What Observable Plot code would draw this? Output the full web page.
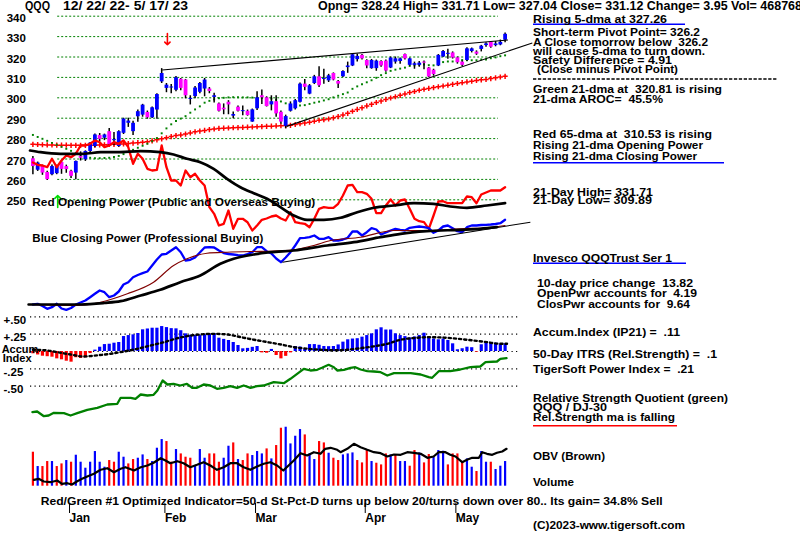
<!DOCTYPE html>
<html><head><meta charset="utf-8">
<script src="https://cdn.jsdelivr.net/npm/d3@7"></script>
<script src="https://cdn.jsdelivr.net/npm/@observablehq/plot@0.6"></script>
<style>
body{margin:0;background:#fff;}
#chart{position:relative;width:800px;height:534px;overflow:hidden;background:#fff;}
#chart svg{position:absolute;left:0;top:0;overflow:visible;}
</style></head><body><div id="chart"></div>
<script>
// ---------- DATA (trading-day index 0 = 12/22/22 ... 99 = 5/17/23) ----------
const monthTicks = [6, 26, 45, 68, 87];
const monthLabels = ["Jan", "Feb", "Mar", "Apr", "May"];
const priceTicks = [250, 260, 270, 280, 290, 300, 310, 320, 330, 340];
const accumTicks = [0.5, 0.25, -0.25, -0.5];
const accumTickLabels = ["+.50", "+.25", "-.25", "-.50"];

const open = [270.1,264.5,266.3,263.4,262.3,262.8,268.3,266.3,264.0,263.1,
 271.2,269.6,273.7,276.1,281.5,280.2,283.4,279.0,276.1,282.6,
 287.5,283.4,290.7,291.5,292.8,290.2,294.0,307.8,304.6,304.8,
 303.7,309.1,308.7,299.2,300.6,302.7,304.3,304.3,300.2,297.0,
 294.9,297.8,291.0,295.4,293.2,293.4,288.1,294.6,301.0,300.0,
 296.5,298.1,292.9,286.0,293.4,294.6,297.8,306.7,301.8,307.0,
 310.3,309.0,308.3,311.9,308.0,310.3,314.8,315.6,318.7,320.8,
 318.3,314.3,314.3,317.8,318.0,314.6,317.5,317.8,321.2,315.9,
 315.9,315.9,317.0,314.6,313.5,315.6,320.0,321.3,322.0,319.6,
 317.5,318.3,322.7,322.4,323.7,325.6,327.2,325.6,325.9,328.24];
const high = [271.2,268.5,267.0,264.0,267.0,267.0,269.0,267.0,264.5,269.0,
 273.5,274.0,278.0,282.3,282.5,282.2,285.0,283.0,283.8,290.0,
 290.0,288.5,294.0,296.8,293.5,295.5,302.0,314.3,307.0,306.5,
 310.5,309.5,309.0,301.0,305.5,307.5,309.5,305.0,302.2,297.5,
 297.0,298.6,293.0,296.0,296.0,294.0,294.5,303.0,303.8,300.5,
 301.0,301.0,293.5,291.5,298.0,299.2,307.2,309.0,306.5,311.0,
 315.2,314.0,311.5,312.2,308.5,313.3,317.5,321.5,321.3,321.2,
 318.6,318.8,318.5,318.2,318.5,320.0,320.0,319.5,321.5,319.5,
 317.5,317.8,318.0,314.8,314.0,321.2,323.2,323.8,322.5,320.0,
 318.0,324.5,324.4,323.0,325.7,327.0,327.6,327.6,328.3,331.71];
const low = [262.3,263.9,262.0,259.5,261.8,262.3,262.5,263.0,260.5,259.8,
 269.0,268.8,273.0,275.5,278.5,279.0,276.5,276.5,275.8,282.0,
 285.5,281.5,288.0,290.5,289.5,289.8,289.5,307.0,302.5,302.0,
 303.0,303.5,299.5,296.5,299.5,302.0,300.5,302.0,297.5,293.0,
 291.7,291.7,289.7,293.0,291.2,291.0,288.0,293.8,296.7,295.5,
 293.6,290.5,287.0,284.8,293.0,294.0,297.5,303.4,301.5,306.5,
 305.0,306.7,307.5,308.3,304.5,310.0,312.0,315.3,317.5,318.5,
 314.2,314.0,313.0,315.0,312.5,314.3,316.5,316.5,318.5,315.5,
 314.0,315.0,313.8,310.0,310.6,315.3,319.8,318.9,319.0,316.5,
 315.3,317.8,322.0,320.8,322.5,324.8,324.3,325.0,325.5,327.04];
const close = [266.3,268.0,263.1,259.9,266.3,266.5,264.9,264.8,261.5,268.8,
 270.4,273.7,277.8,281.8,279.6,281.8,277.0,279.4,283.4,289.6,
 288.6,287.5,293.2,296.4,290.2,295.1,301.6,311.9,306.2,305.2,
 309.8,304.6,301.0,299.6,304.8,307.0,308.7,303.1,301.0,293.4,
 294.1,296.5,291.8,293.4,293.7,291.3,294.1,300.0,300.0,295.7,
 298.1,292.1,288.1,290.8,297.0,298.6,306.7,305.1,305.9,310.3,
 305.9,309.3,310.8,308.7,306.7,312.9,315.6,321.1,320.3,319.1,
 315.6,318.3,318.0,315.6,313.1,319.5,319.1,319.1,319.1,319.1,
 316.7,317.0,316.6,310.2,311.4,320.8,322.7,321.7,319.5,317.2,
 315.9,324.0,324.0,321.4,325.3,326.4,324.8,326.4,327.17,331.12];

const ma21 = [281.8,280.8,279.9,278.9,277.9,277.0,276.0,275.0,274.0,273.0,
 272.0,271.2,270.6,270.4,270.4,270.5,270.6,271.0,271.5,272.4,
 273.4,274.5,275.5,276.5,277.5,278.7,280.2,282.6,285.0,287.0,
 288.6,289.8,291.0,292.7,294.3,295.8,297.6,298.5,299.2,299.8,
 300.0,300.2,300.3,300.3,300.2,300.2,300.1,300.0,300.0,299.9,
 299.6,299.0,298.2,297.3,296.5,296.2,296.2,296.4,297.0,297.6,
 298.1,298.7,299.3,300.2,301.0,301.8,302.6,304.4,305.6,306.6,
 307.6,308.6,309.8,311.1,312.1,313.2,313.8,314.3,314.8,315.6,
 315.9,316.2,316.3,316.0,315.9,316.8,317.5,317.8,317.8,318.2,
 318.5,318.4,318.4,318.4,318.8,318.8,319.4,319.8,320.4,320.81];
const ma65 = [277.2,277.1,277.0,276.9,276.9,276.8,276.8,276.8,276.7,276.7,
 276.7,276.7,276.8,276.8,276.9,277.0,277.1,277.2,277.3,277.4,
 277.6,277.8,278.0,278.2,278.4,278.9,279.4,279.9,280.4,281.0,
 281.5,281.8,282.2,282.8,283.3,283.7,284.0,284.4,284.7,285.0,
 285.1,285.2,285.3,285.4,285.5,285.6,285.7,285.8,285.9,286.0,
 286.1,286.2,286.3,286.4,286.5,286.9,287.3,287.6,288.0,288.5,
 289.0,289.3,289.6,290.2,290.8,291.6,292.4,293.4,294.3,295.1,
 296.0,296.8,297.7,298.4,299.2,299.9,300.5,301.2,301.9,302.6,
 303.1,303.7,304.2,304.6,305.0,305.4,305.8,306.2,306.6,307.0,
 307.4,307.8,308.1,308.5,308.8,309.0,309.4,309.8,310.2,310.53];
// price trendlines [i1, p1, i2, p2]
const priceTrends = [[27.1, 313.6, 99.6, 328.3], [53.2, 286.0, 104.7, 326.9]];
const sellArrow = [[28.2, 331.5, 326.0]];

// Opening / Closing Power (relative units)
const openPower = [148,145.7,145,143.3,151.7,143.3,150,155,153.3,156.7,
 165,165,166.7,170,168.3,163.3,165,168.3,166.7,170,
 163.3,146.7,156.7,151.7,141.7,140,140.7,165,143.3,130,
 130,125,140,133.3,136.7,130,125,103.3,96.7,85,
 86.7,100,81.7,91.7,91.7,88.3,80,85,90.7,92,
 94,95,92,90,98.3,88.3,87.3,86.7,83.3,91.7,
 101.7,103.3,102.7,102.7,106.7,115,125,125.7,118.3,118.3,
 116.7,111.7,97.3,97.3,105,111,105,110,111,101.7,
 91.7,89.3,88.3,81.7,95,109,109.3,107.3,107.3,107.3,
 107.3,114,113.3,107.3,116,118,120,120,120,123.3];
const openPowerMA = [[-0.6,160],[1.6,158.3],[5.8,156.7],[10.6,156.7],[14.2,158.3],[17.7,158.3],[22.6,159.3],[26.7,158.3],[29.5,156],[32.3,151.7],[35.1,148.3],[37.9,141.7],[40.7,131.7],[43.5,123.3],[46.3,117.3],[49.1,111.7],[51.9,103.3],[54.7,95],[57.5,90.7],[61,90.7],[64.5,92.7],[68,98.3],[71.5,102.7],[75.7,105],[79.9,107.3],[84,106.7],[87.5,104],[91,102.7],[95.2,105],[99,107.3]];
const closePower = [6,6.7,4.5,1.7,3.3,6.7,2,0.7,2.5,6,
 8,10,13.3,16.7,20,18.3,13.3,15,19,26,
 28.3,33.3,35.5,37.3,39,45,51,56,56.7,60,
 63.3,58.3,50,50.7,53,58,63,63.3,63,60,
 57.5,56.5,56,55.3,55,56.5,58.3,63.3,63.3,59.3,
 57,52,48.3,53,58.3,65,72.3,72.7,73.3,75,
 71.7,71.7,73.3,70,70,71,72.7,79,79,75,
 78.3,82.3,81,76,78,80,81.7,80.7,80,82.7,
 83.3,84,83.3,82.3,77.7,80,84,85,82.3,79.3,
 78.3,83.3,85,85,85.5,85.7,86,86.5,87.3,90.7];
const closePowerMA21 = [[-0.9,6],[9.3,5],[14.2,8.3],[19.8,16.7],[25.3,28.3],[29.5,45],[32.3,51.7],[36.5,57.3],[40.7,58.3],[46.3,59],[49.8,59.3],[54.7,60.7],[58.9,65],[62.4,70],[68.7,73.3],[75.7,80],[82.6,80],[89.6,81.7],[96.6,83.3],[99,85]];
const closePowerMA65 = [[-0.9,6],[10,6],[15,7.5],[18.4,9.3],[22.6,15],[26.7,20.7],[30.9,28.3],[35.1,35],[39.3,46.7],[42.1,51.7],[46.3,56],[49.8,58.3],[54.7,60],[61.7,65],[67.3,68.3],[72.9,73.3],[77.1,76.7],[82.6,79.3],[89.6,80.7],[93.8,81.7],[97.3,83.3]];
const powerTrend = [[52.3, 48.3, 104.3, 88.3]];
const buyArrow = [[5.2, 103, 115]];

// Accumulation index (IP21)
const accum = [-0.033,-0.05,-0.068,-0.075,-0.082,-0.106,-0.12,-0.14,-0.154,-0.09,
 -0.1,-0.09,-0.03,0.02,0.062,0.1,0.105,0.12,0.13,0.216,
 0.23,0.24,0.26,0.313,0.325,0.336,0.336,0.36,0.345,0.33,
 0.327,0.30,0.255,0.235,0.23,0.23,0.24,0.245,0.255,0.192,
 0.175,0.159,0.13,0.087,0.039,0.045,0.06,0.072,-0.02,-0.025,
 0.03,-0.058,-0.106,-0.07,-0.02,0.072,0.065,0.03,0.1,0.1,
 0.09,0.072,0.07,0.072,0.095,0.135,0.169,0.18,0.185,0.207,
 0.23,0.255,0.313,0.342,0.31,0.31,0.255,0.23,0.215,0.197,
 0.21,0.23,0.264,0.19,0.18,0.169,0.18,0.16,0.111,0.025,
 0.04,0.062,0.055,-0.01,0.097,0.135,0.125,0.12,0.1,0.11];
const accumMA = [[0,0.025],[2.3,0.02],[5.1,-0.01],[7.9,-0.043],[10.7,-0.072],[13.5,-0.055],[16.3,-0.033],[19.1,0],[21.9,0.039],[24.7,0.087],[27.5,0.135],[30.3,0.192],[33.1,0.23],[38,0.255],[40.8,0.245],[43.6,0.207],[46.4,0.169],[49.2,0.135],[52,0.101],[54.8,0.062],[57.6,0.04],[60.3,0.025],[63.1,0.018],[65.9,0.025],[68.7,0.048],[71.5,0.075],[74.3,0.111],[77.1,0.17],[80,0.195],[83,0.207],[87,0.197],[91,0.169],[95.2,0.135],[98,0.111],[99.4,0.111]];

// Relative strength quotient QQQ / DJ-30 (relative units)
const relStrength = [[-0.1,8.3],[0.9,9],[2.3,4.3],[3.3,5],[4.4,7.7],[6.5,7.3],[7.9,5],[9.3,7.3],[11.4,10.7],[13.5,12.7],[15.6,16],[17.7,16.7],[18.4,22.7],[20.5,22.7],[21.5,21.7],[22.6,26],[24,25],[25.3,25.7],[26.1,30],[27.2,40],[28.2,36],[29.5,36.7],[30.9,35],[32.3,36.7],[33.4,32.7],[34.4,32.7],[35.8,36],[37.2,35],[38.6,31.7],[40,32.7],[41.4,34.3],[42.8,32.7],[44.2,35],[45.6,32.7],[47,34.3],[48.4,35],[50.5,38.3],[52.6,37.3],[54,41.7],[55.4,46.7],[56.8,51.7],[58.2,50],[59.6,50.7],[60.6,52.7],[62,55.7],[63.1,53.3],[63.8,50],[65.2,50.7],[66.6,52.7],[67.6,53.3],[68.7,51],[70.1,49.3],[71.5,49],[72.9,48.3],[74.3,45],[75.7,47.3],[77.1,47.3],[79.2,47.3],[81.3,46],[83,43.3],[83.7,42.7],[85.1,49.3],[87.5,49.3],[89.6,51],[91.7,53.3],[93.8,54],[94.9,58.3],[97.3,59],[98,61.7],[99.3,62.3]];

// Volume (millions) and up/down colouring, OBV (relative units)
const volume = [64.6,37.4,37.4,46.9,46.9,37.4,42.4,48.8,45.6,58.9,
 45.6,34.2,45.6,65.9,45.6,36.1,48.8,45.6,64.6,55.1,
 42.4,50.7,53.2,59.5,50.7,46.9,72.2,88.7,84.9,45.6,
 69.7,61.4,55.1,53.2,38,69.7,53.2,61.4,61.4,45.6,
 53.2,76,82.3,50.7,48.8,61.4,58.3,65.9,61.4,70.9,
 51.9,77.3,110.2,112.1,80.4,95,107.7,97.5,61.4,50.7,
 84.9,82.3,62.7,53.2,48.8,59.5,61.4,63.3,48.8,44.3,
 67.8,46.9,43.7,40.5,61.4,59.5,59.5,46.9,46.9,38,
 67.8,63.3,44.3,60.2,55.1,67.8,66.5,40.5,61.4,61.4,
 45.6,51.9,36.1,27.9,65.9,45.6,45.6,31.7,38,46.9];
const volumeDir = ("RBRRBRRBRB" + "BBBBBBRRBB" + "RRBBRBBBRR" + "BRRRBBBRRR" + "BBRBRRBBBR" +
 "BRRBBBBRBB" + "RRBRRBBBRR" + "RBRRRBRBBR" + "RBRRBBBRRR" + "RBBRBBRBBB").split("");
const obv = [[0.2,10.7],[1.2,11.7],[2.3,9],[3.7,8.3],[5.1,10],[6.1,6.7],[7.2,7.3],[8.2,6],[9.3,9.3],[10.3,11.7],[11.4,14],[12.8,16.7],[14.2,20.7],[15.6,22.3],[17,18.3],[18.4,21.7],[19.4,23.3],[21.2,20],[22.6,23.3],[24,25],[25.3,27.7],[26.8,32.3],[27.8,30],[28.8,27.3],[30.3,29.3],[31.6,27.3],[33,23.3],[34.4,25.7],[35.8,28.3],[37.2,25],[38.6,20.7],[40,23.3],[41.4,27.3],[42.8,27.3],[44.2,23.3],[45.6,20.7],[47,24],[48.4,26.7],[49.8,28.3],[51.2,25],[52.5,20],[53.6,25],[54.7,30],[56.1,37.3],[57.5,35],[58.9,38.3],[60.3,36.7],[61.3,41.7],[62.4,42.7],[63.8,40.7],[64.5,38.3],[65.9,41.7],[67.3,46.7],[68.7,43.3],[70.1,40.7],[71.5,38.3],[72.9,37.3],[74.3,34],[75.7,36],[77.1,35.7],[78.5,38.3],[79.9,37.7],[81.3,36.7],[82.7,32.7],[84,34],[85.1,38.3],[86.5,38.3],[87.5,35.7],[88.6,34],[90,28.3],[91,30.7],[92.1,32.7],[93.5,32.7],[94.2,38.3],[95.2,36.7],[96.3,35.7],[97.3,37.7],[98.4,39],[99.3,41.7]];

// ---------- LAYOUT ----------
const W = 800, H = 534, ML = 32.4, MR = 295.4;
const FONT = "'Liberation Sans', Arial, Helvetica, sans-serif";
const BLUE = "#0000ff", RED = "#ff0000", MAGENTA = "#ff00ff", GREEN = "#008000";
const days = d3.range(100);
const chart = document.getElementById("chart");

function panel(yDomain, top, bottom, marks) {
  const svg = Plot.plot({
    width: W, height: H, marginLeft: ML, marginRight: MR,
    marginTop: top, marginBottom: H - bottom,
    x: {domain: [0, 99], axis: null},
    y: {domain: yDomain, axis: null},
    style: {background: "transparent", overflow: "visible", fontFamily: FONT, fontWeight: "bold"},
    marks
  });
  chart.appendChild(svg);
  return svg;
}

// Price panel
const candles = days.map(i => ({i, o: open[i], h: high[i], l: low[i], c: close[i]}));
panel([250, 340], 15.7, 199.3, [
  Plot.ruleY(priceTicks, {x1: 5.2, x2: 97.6, y: d => d, stroke: GREEN, strokeWidth: 1, strokeDasharray: "2,2"}),
  Plot.dot(days, {x: i => i, y: i => ma65[i], symbol: "plus", r: 1.8, stroke: RED, strokeWidth: 1.5}),
  Plot.dot(days, {x: i => i, y: i => ma21[i], symbol: "square", r: 1.1, fill: GREEN}),
  Plot.ruleX(candles, {x: "i", y1: "l", y2: "h", stroke: "black", strokeWidth: 1.5}),
  Plot.ruleX(candles, {x: "i", y1: "o", y2: d => Math.abs(d.c - d.o) < 0.5 ? d.o + 0.5 : d.c, stroke: d => d.c >= d.o ? BLUE : MAGENTA, strokeWidth: 3.8}),
  Plot.link(priceTrends, {x1: d => d[0], y1: d => d[1], x2: d => d[2], y2: d => d[3], stroke: "black", strokeWidth: 1.1}),
  Plot.arrow(sellArrow, {x1: d => d[0], y1: d => d[1], x2: d => d[0], y2: d => d[2], stroke: RED, strokeWidth: 1.6, headLength: 6, headAngle: 90}),
  Plot.axisY(priceTicks, {anchor: "left", tickSize: 0, tickPadding: 7, fontSize: 11.5, fontWeight: "bold", dy: 2})
]);

// Opening / Closing power panel
panel([0, 170], 140, 310, [
  Plot.line(days, {x: i => i, y: i => openPower[i], stroke: RED, strokeWidth: 2.3}),
  Plot.line(openPowerMA, {x: d => d[0], y: d => d[1], stroke: "black", strokeWidth: 2.7, curve: "monotone-x"}),
  Plot.line(days, {x: i => i, y: i => closePower[i], stroke: BLUE, strokeWidth: 2.3}),
  Plot.line(closePowerMA21, {x: d => d[0], y: d => d[1], stroke: "#800000", strokeWidth: 1.1, curve: "monotone-x"}),
  Plot.line(closePowerMA65, {x: d => d[0], y: d => d[1], stroke: "black", strokeWidth: 2.7, curve: "monotone-x"}),
  Plot.link(powerTrend, {x1: d => d[0], y1: d => d[1], x2: d => d[2], y2: d => d[3], stroke: "black", strokeWidth: 1.1}),
  Plot.arrow(buyArrow, {x1: d => d[0], y1: d => d[1], x2: d => d[0], y2: d => d[2], stroke: "#00dd00", strokeWidth: 1.6, headLength: 5, headAngle: 90})
]);

// Accumulation index panel
panel([-0.5, 0.5], 316.35, 385.65, [
  Plot.ruleY([0.5, 0.25, 0, -0.25, -0.5], {x1: -0.5, x2: 101.9, y: d => d, stroke: "black", strokeWidth: 1.2, strokeDasharray: "1.2,3.3"}),
  Plot.ruleX(days, {x: i => i, y1: 0, y2: i => accum[i], stroke: i => accum[i] >= 0 ? BLUE : RED, strokeWidth: 3.2}),
  Plot.line(accumMA, {x: d => d[0], y: d => d[1], stroke: "black", strokeWidth: 2.4, strokeDasharray: "2.2,3", curve: "monotone-x"}),
  Plot.axisY(accumTicks, {anchor: "left", tickSize: 0, tickPadding: 29.4, textAnchor: "start", tickFormat: d => accumTickLabels[accumTicks.indexOf(d)], fontSize: 11.5, fontWeight: "bold", dy: 3})
]);

// Relative strength panel
panel([0, 70], 350, 420, [
  Plot.line(relStrength, {x: d => d[0], y: d => d[1], stroke: GREEN, strokeWidth: 2.3})
]);

// Volume panel
panel([0, 100], 433.1, 485.7, [
  Plot.ruleX(days, {x: i => i, y1: 0, y2: i => volume[i], stroke: i => volumeDir[i] === "B" ? BLUE : RED, strokeWidth: 2.2})
]);

// OBV
panel([0, 50], 440, 490, [
  Plot.line(obv, {x: d => d[0], y: d => d[1], stroke: "black", strokeWidth: 2.2})
]);

// Month axis
panel([0, 1], 0, 509, [
  Plot.axisX(monthTicks, {anchor: "bottom", tickSize: 10, tickPadding: 0, tickFormat: d => monthLabels[monthTicks.indexOf(d)], textAnchor: "start", dx: 8, dy: -6, fontSize: 12, fontWeight: "bold", strokeWidth: 1})
]);

// ---------- TEXT ANNOTATIONS ----------
// [x, baseline, text, width, font size]
const notes = [
  [25, 10.3, "QQQ", 25, 12],
  [63, 10.3, "12/ 22/ 22- 5/ 17/ 23", 125, 12],
  [318, 10.3, "Opng= 328.24 High= 331.71 Low= 327.04 Close= 331.12 Change= 3.95 Vol= 468768", 484, 12],
  [533, 23.2, "Rising 5-dma at 327.26", 134, 11.5],
  [533, 36, "Short-term Pivot Point= 326.2", 167, 11],
  [533, 46, "A Close tomorrow below  326.2", 175, 11],
  [533, 55, "will cause 5-dma to turn down.", 172, 11],
  [533, 64, "Safety Difference = 4.91", 139, 11],
  [537, 72.5, "(Close minus Pivot Point)", 141, 11],
  [533, 92.5, "Green 21-dma at  320.81 is rising", 189, 11.5],
  [533, 102.5, "21-dma AROC=  45.5%", 130, 11],
  [533, 138.3, "Red 65-dma at  310.53 is rising", 179, 11.5],
  [533, 149.3, "Rising 21-dma Opening Power", 170, 11],
  [533, 160, "Rising 21-dma Closing Power", 164, 11],
  [533, 195.5, "21-Day High= 331.71", 120, 11],
  [533, 204.3, "21-Day Low= 309.89", 119, 11],
  [533, 261.7, "Invesco QQQTrust Ser 1", 139, 11.5],
  [537, 286.5, "10-day price change  13.82", 156, 11.5],
  [537, 297.3, "OpenPwr accounts for  4.19", 160, 11],
  [537, 308.3, "ClosPwr accounts for  9.64", 153, 11],
  [533, 335.5, "Accum.Index (IP21) =  .11", 147, 11.5],
  [533, 357.8, "50-Day ITRS (Rel.Strength) =  .1", 184, 11.5],
  [533, 372.5, "TigerSoft Power Index =  .21", 161, 11.5],
  [533, 401.5, "Relative Strength Quotient (green)", 195, 11],
  [533, 411, "QQQ / DJ-30", 74, 11],
  [533, 421, "Rel.Strength ma is falling", 142, 11],
  [533, 459.8, "OBV (Brown)", 72, 11.5],
  [533, 486.3, "Volume", 41, 11.5],
  [40.7, 505, "Red/Green #1 Optimized Indicator=50-d St-Pct-D turns up below 20/turns down over 80.. Its gain= 34.8% Sell", 622, 11.5],
  [533, 528.5, "(C)2023-www.tigersoft.com", 152, 11.5],
  [32.3, 205.5, "Red Opening Power (Public and Overseas Buying)", 283, 11.5],
  [32.3, 241.5, "Blue Closing Power (Professional Buying)", 231, 11.5],
  [1.7, 352.7, "Accum", 36.6, 11],
  [2.7, 361.7, "Index", 29, 11]
];
// [x1, x2, y, colour, dash]
const strokes = [
  [533, 685, 24.2, BLUE, null],
  [533, 777, 79, "black", "3.3,1.6"],
  [533, 724, 162.7, BLUE, null],
  [533, 686, 263.3, BLUE, null],
  [533, 677, 425.7, RED, null]
];
const ov = d3.select(chart).append("svg").attr("width", W).attr("height", H)
  .style("font-family", FONT).style("font-weight", "bold");
ov.selectAll("line").data(strokes).join("line")
  .attr("x1", d => d[0]).attr("x2", d => d[1]).attr("y1", d => d[2]).attr("y2", d => d[2])
  .attr("stroke", d => d[3]).attr("stroke-width", 1.4).attr("stroke-dasharray", d => d[4]);
ov.selectAll("text").data(notes).join("text")
  .attr("x", d => d[0]).attr("y", d => d[1])
  .attr("font-size", d => d[4])
  .attr("textLength", d => d[3]).attr("lengthAdjust", "spacingAndGlyphs")
  .style("white-space", "pre").attr("fill", "black")
  .text(d => d[2]);
</script></body></html>
